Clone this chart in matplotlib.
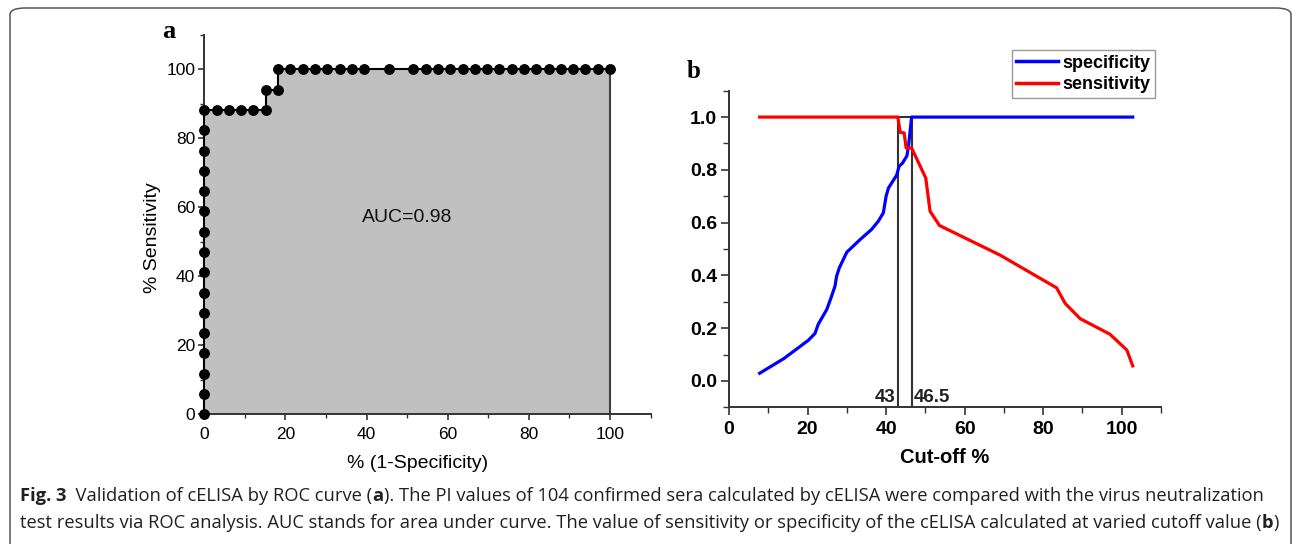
import numpy as np
import matplotlib
matplotlib.use("Agg")
import matplotlib.pyplot as plt
from matplotlib.ticker import MultipleLocator
from matplotlib.patches import FancyBboxPatch
from matplotlib import font_manager

# ---------------- data ----------------
# Panel a: ROC curve points (% 1-specificity, % sensitivity)
roc_fpr = [0, 0, 0, 0, 0, 0, 0, 0, 0, 0, 0, 0, 0, 0, 0, 0,
           3.03, 6.06, 9.09, 12.12, 15.15,
           15.15, 18.18, 18.18,
           21.21, 24.24, 27.27, 30.30, 33.33, 36.36, 39.39,
           45.45,
           51.52, 54.55, 57.58, 60.61, 63.64, 66.67, 69.70, 72.73, 75.76,
           78.79, 81.82, 84.85, 87.88, 90.91, 93.94, 96.97, 100.0]
roc_tpr = [0, 5.88, 11.76, 17.65, 23.53, 29.41, 35.29, 41.18, 47.06, 52.94,
           58.82, 64.71, 70.59, 76.47, 82.35, 88.24,
           88.24, 88.24, 88.24, 88.24, 88.24,
           94.12, 94.12, 100,
           100, 100, 100, 100, 100, 100, 100,
           100,
           100, 100, 100, 100, 100, 100, 100, 100, 100,
           100, 100, 100, 100, 100, 100, 100, 100]
auc_text = "AUC=0.98"

# Panel b: specificity / sensitivity vs cut-off
spec_x = [7.8, 14.0, 20.2, 21.9, 22.7, 24.9, 26.1, 27.0, 27.4, 28.1, 30.0,
          33.4, 36.3, 38.0, 39.3, 40.0, 40.6, 42.7, 43.3, 44.2, 45.3, 45.7,
          46.5, 102.8]
spec_y = [0.029, 0.085, 0.154, 0.180, 0.214, 0.271, 0.320, 0.360, 0.397,
          0.429, 0.488, 0.536, 0.574, 0.605, 0.637, 0.700, 0.731, 0.780,
          0.813, 0.826, 0.853, 0.889, 1.0, 1.0]
sens_x = [7.8, 43.0, 43.6, 44.6, 45.1, 46.5, 50.1, 51.2, 53.6, 69.0, 83.4,
          85.6, 89.4, 97.0, 101.3, 102.8]
sens_y = [1.0, 1.0, 0.942, 0.940, 0.883, 0.883, 0.769, 0.643, 0.589, 0.477,
          0.353, 0.294, 0.236, 0.177, 0.117, 0.057]
cutoffs = [43, 46.5]
cutoff_labels = ["43", "46.5"]

caption_line1 = [("Fig. 3", "bold"),
                 ("  Validation of cELISA by ROC curve (", "normal"),
                 ("a", "bold"),
                 ("). The PI values of 104 confirmed sera calculated by cELISA were compared with the virus neutralization", "normal")]
caption_line2 = [("test results via ROC analysis. AUC stands for area under curve. The value of sensitivity or specificity of the cELISA calculated at varied cutoff value (", "normal"),
                 ("b", "bold"),
                 (")", "normal")]

# ---------------- figure ----------------
W, H = 1292, 544
fig = plt.figure(figsize=(W / 100, H / 100), dpi=100)
plt.rcParams['font.family'] = ['Liberation Sans', 'DejaVu Sans']

def fx(px):
    return px / W

def fy(py):
    return 1 - py / H

# border (rounded box, open at bottom)
border = FancyBboxPatch((fx(10), fy(600)), fx(1291) - fx(10), fy(8) - fy(600),
                        boxstyle="round,pad=0,rounding_size=0.012",
                        transform=fig.transFigure, fill=False,
                        edgecolor="#555555", linewidth=1.1, clip_on=False)
fig.patches.append(border)

spine_col = "#333333"

# ---------- panel a ----------
axa = fig.add_axes([fx(204.3), fy(414.3), fx(650.6) - fx(204.3), fy(35) - fy(414.3)])
axa.set_xlim(0, 110)
axa.set_ylim(0, 110)
poly_x = list(roc_fpr) + [roc_fpr[-1]]
poly_y = list(roc_tpr) + [0]
axa.fill(poly_x, poly_y, color="#c0c0c0", zorder=1, linewidth=0)
axa.plot([roc_fpr[-1], roc_fpr[-1]], [0, roc_tpr[-1]], color="#404040", lw=1.5, zorder=2)
axa.plot(roc_fpr, roc_tpr, color="black", lw=1.5, marker="o", markersize=6.8,
         zorder=5, clip_on=False)
axa.text(50, 57, auc_text, fontsize=14, ha="center", va="center", color="#111111")
for s in ["top", "right"]:
    axa.spines[s].set_visible(False)
for s in ["left", "bottom"]:
    axa.spines[s].set_color(spine_col)
    axa.spines[s].set_linewidth(1.4)
axa.set_xticks([0, 20, 40, 60, 80, 100])
axa.set_yticks([0, 20, 40, 60, 80, 100])
axa.xaxis.set_minor_locator(MultipleLocator(10))
axa.yaxis.set_minor_locator(MultipleLocator(10))
axa.tick_params(which="major", direction="out", length=4.5, width=1.2, color=spine_col,
                labelsize=12.5)
axa.tick_params(which="minor", direction="out", length=3, width=1.0, color=spine_col)
axa.tick_params(axis="x", pad=4.5)
axa.tick_params(axis="y", pad=2)
axa.set_xlabel("% (1-Specificity)", fontsize=14)
axa.set_ylabel("% Sensitivity", fontsize=14)
axa.xaxis.set_label_coords(0.477, -0.131)
axa.yaxis.set_label_coords(-0.117, 0.465)
axa.xaxis.label.set_va("center")
axa.yaxis.label.set_va("center")
axa.patch.set_alpha(0)

fig.text(fx(169), fy(31), "a", fontsize=19, fontweight="bold",
         family=["Liberation Serif", "DejaVu Serif"], ha="center", va="center")

# ---------- panel b ----------
axb = fig.add_axes([fx(729), fy(407.3), fx(1161) - fx(729), fy(90.7) - fy(407.3)])
axb.set_xlim(0, 110)
axb.set_ylim(-0.1, 1.1)
lw_c = 1.5
top = 1.0
axb.plot([cutoffs[0], cutoffs[0]], [-0.1, top], color=spine_col, lw=lw_c, zorder=2)
axb.plot([cutoffs[1], cutoffs[1]], [-0.1, top], color=spine_col, lw=lw_c, zorder=2)
axb.plot([cutoffs[0], cutoffs[1]], [top, top], color=spine_col, lw=lw_c, zorder=2)
axb.plot(spec_x, spec_y, color="#0000ff", lw=2.3, label="specificity", zorder=3)
axb.plot(sens_x, sens_y, color="#ff0000", lw=2.3, label="sensitivity", zorder=3)
axb.text(cutoffs[0] - 0.6, -0.062, cutoff_labels[0], fontsize=13.5, fontweight="bold",
         ha="right", va="center", color="#222222")
axb.text(cutoffs[1] + 0.6, -0.062, cutoff_labels[1], fontsize=13.5, fontweight="bold",
         ha="left", va="center", color="#222222")
for s in ["top", "right"]:
    axb.spines[s].set_visible(False)
for s in ["left", "bottom"]:
    axb.spines[s].set_color(spine_col)
    axb.spines[s].set_linewidth(1.4)
axb.set_xticks([0, 20, 40, 60, 80, 100])
axb.xaxis.set_minor_locator(MultipleLocator(10))
axb.set_yticks([0.0, 0.2, 0.4, 0.6, 0.8, 1.0])
axb.yaxis.set_minor_locator(MultipleLocator(0.1))
axb.tick_params(which="major", direction="out", length=6, width=1.2, color=spine_col,
                labelsize=14)
axb.tick_params(which="minor", direction="out", length=4, width=1.0, color=spine_col)
axb.tick_params(axis="x", pad=4.0)
axb.tick_params(axis="y", pad=2.5)
axb.yaxis.set_major_formatter(matplotlib.ticker.FormatStrFormatter("%.1f"))
for lab in axb.get_xticklabels() + axb.get_yticklabels():
    lab.set_fontweight("bold")
axb.set_xlabel("Cut-off %", fontsize=14.5, fontweight="bold")
axb.xaxis.set_label_coords(0.5, -0.159)
axb.xaxis.label.set_va("center")
axb.patch.set_alpha(0)

leg = axb.legend(loc="upper right", bbox_to_anchor=(fx(1155), fy(50)),
                 bbox_transform=fig.transFigure, borderaxespad=0,
                 prop={"weight": "bold", "size": 13}, handlelength=2.3,
                 handletextpad=0.25, labelspacing=0.25, borderpad=0.25,
                 fancybox=False, framealpha=1)
leg.get_frame().set_edgecolor("#999999")
leg.get_frame().set_linewidth(1.0)
for ln in leg.get_lines():
    ln.set_linewidth(2.5)

fig.text(fx(694), fy(71), "b", fontsize=18, fontweight="bold",
         family=["Liberation Serif", "DejaVu Serif"], ha="center", va="center")

# ---------- caption ----------
def pick_family():
    for fam in ["Open Sans", "Noto Sans", "Liberation Sans"]:
        try:
            font_manager.findfont(font_manager.FontProperties(family=fam),
                                  fallback_to_default=False)
            return fam
        except Exception:
            continue
    return "DejaVu Sans"

cap_fam = pick_family()
renderer = fig.canvas.get_renderer()

def measure(parts, size):
    total = 0
    for s, w in parts:
        t = fig.text(0, 0, s, fontsize=size, fontweight=w, family=cap_fam)
        total += t.get_window_extent(renderer).width
        t.remove()
    return total

def draw_parts(parts, x0, ypx, size):
    cur = x0
    for s, w in parts:
        t = fig.text(fx(cur), fy(ypx), s, fontsize=size, fontweight=w,
                     family=cap_fam, ha="left", va="center", color="#231f20")
        cur += t.get_window_extent(renderer).width

base = 10.0
w1 = measure(caption_line1, base)
cap_size = base * (1268 - 20) / w1
draw_parts(caption_line1, 20, 496, cap_size)
draw_parts(caption_line2, 20, 523, cap_size)

fig.savefig("out.png", dpi=100)
